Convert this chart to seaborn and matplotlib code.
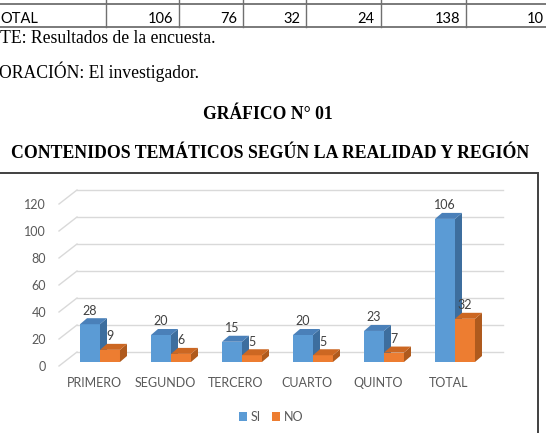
import matplotlib
matplotlib.use("Agg")
import matplotlib.pyplot as plt
from matplotlib.lines import Line2D
from matplotlib.patches import Polygon, Rectangle
from matplotlib.transforms import IdentityTransform, ScaledTranslation
import pandas as pd
import seaborn as sns

# data
categories = ["PRIMERO", "SEGUNDO", "TERCERO", "CUARTO", "QUINTO", "TOTAL"]
si_values = [28, 20, 15, 20, 23, 106]
no_values = [9, 6, 5, 5, 7, 32]
series = ["SI", "NO"]
yticks = [0, 20, 40, 60, 80, 100, 120]

# last row of the table above the chart (what is visible inside the page crop)
table_row = ["OTAL", "106", "76", "32", "24", "138", "10"]
source_line = "TE: Resultados de la encuesta."
author_line = "ORACIÓN: El investigador."
chart_number = "GRÁFICO N° 01"
chart_title = "CONTENIDOS TEMÁTICOS SEGÚN LA REALIDAD Y REGIÓN"

front_colors = {"SI": "#5B9BD5", "NO": "#ED7D31"}
side_colors = {"SI": "#3D6E9E", "NO": "#AF5A1D"}
top_colors = {"SI": "#4A80B9", "NO": "#CC6722"}
text_gray = "#595959"

W, H = 546, 433


def fx(x):
    return x / W


def fy(y):
    return 1 - y / H


df = pd.DataFrame({
    "grado": categories * 2,
    "valor": si_values + no_values,
    "serie": [series[0]] * len(categories) + [series[1]] * len(categories),
})

plt.rcParams["font.family"] = ["Lato", "DejaVu Sans"]
fig = plt.figure(figsize=(W / 100, H / 100), dpi=100)
fig.patch.set_facecolor("white")

# ---- table fragment at the top ----
for yl in [4, 27]:
    fig.add_artist(Line2D([0, 1], [fy(yl), fy(yl)], color="#707070", lw=1.3))
for xl in [106, 179, 243, 306, 381, 466]:
    fig.add_artist(Line2D([fx(xl), fx(xl)], [fy(0), fy(27)], color="#707070", lw=1.0))
fig.text(fx(0), fy(23), table_row[0], ha="left", va="baseline", fontsize=10.5, color="black")
for txt, xr in zip(table_row[1:-1], [173, 237, 300, 374, 460]):
    fig.text(fx(xr), fy(23), txt, ha="right", va="baseline", fontsize=10.5, color="black")
fig.text(fx(527), fy(23), table_row[-1], ha="left", va="baseline", fontsize=10.5, color="black")

serif = ["Liberation Serif", "DejaVu Serif"]
fig.text(fx(0), fy(43), source_line, ha="left", va="baseline", fontsize=12.7, family=serif)
fig.text(fx(-1), fy(78), author_line, ha="left", va="baseline", fontsize=12.7, family=serif)
fig.text(fx(268), fy(115), chart_number, ha="center", va="center", fontsize=12.7,
         fontweight="bold", family=serif)
fig.text(fx(270), fy(153), chart_title, ha="center", va="center", fontsize=12.8,
         fontweight="bold", family=serif)

# chart frame
fig.add_artist(Rectangle((-0.01, -0.01), fx(538) + 0.01, fy(173) + 0.01, fill=False,
                         edgecolor="#404040", lw=1.4))

# ---- bar chart ----
ax = fig.add_axes([fx(64.5), fy(362), fx(426), 162 / H])
sns.barplot(data=df, x="grado", y="valor", hue="serie", palette=front_colors,
            width=0.563, linewidth=0, saturation=1, ax=ax)
ax.set_xlim(-0.5, 5.5)
ax.set_ylim(0, 120)
ax.set_xlabel("")
ax.set_ylabel("")
for s in ax.spines.values():
    s.set_visible(False)
ax.patch.set_alpha(0)

px = fig.dpi_scale_trans
back = ScaledTranslation(12.5 / 100, 10 / 100, px)
for v in yticks:
    ax.plot([-0.5, 5.5], [v, v], color="#D9D9D9", lw=1.0, transform=ax.transData + back,
            zorder=0, clip_on=False)
    bx, by = ax.transData.transform((-0.5, v))
    ax.add_line(Line2D([bx - 5.5, bx + 12.5], [by - 4, by + 10], color="#D9D9D9", lw=1.0,
                       transform=IdentityTransform(), clip_on=False, zorder=0))

# 3D faces for each bar
depth = (7, 6)
for k, cont in enumerate(ax.containers):
    name = series[k]
    for bar in cont:
        bar.set_zorder(2 + k * 0.2)
        x0, y0 = ax.transData.transform((bar.get_x(), 0))
        x1, y1 = ax.transData.transform((bar.get_x() + bar.get_width(), bar.get_height()))
        dx, dy = depth
        side = Polygon([(x1, y0), (x1, y1), (x1 + dx, y1 + dy), (x1 + dx, y0 + dy)],
                       closed=True, facecolor=side_colors[name], edgecolor="none",
                       transform=IdentityTransform(), clip_on=False, zorder=2.1 + k * 0.2)
        top = Polygon([(x0, y1), (x1, y1), (x1 + dx, y1 + dy), (x0 + dx, y1 + dy)],
                      closed=True, facecolor=top_colors[name], edgecolor="none",
                      transform=IdentityTransform(), clip_on=False, zorder=2.1 + k * 0.2)
        ax.add_patch(side)
        ax.add_patch(top)
    labels = ax.bar_label(cont, padding=5.5, fontsize=9, color="#404040")
    for t in labels:
        t.set_zorder(5)

ax.set_yticks(yticks)
ax.set_yticklabels([str(v) for v in yticks])
ax.tick_params(axis="both", length=0, labelsize=9, labelcolor=text_gray)
ax.tick_params(axis="y", pad=13.3)
ax.tick_params(axis="x", pad=10.5)
for t in ax.yaxis.get_major_ticks():
    t.label1.set_transform(t.label1.get_transform() + ScaledTranslation(0, -0.04, px))
for t in ax.xaxis.get_major_ticks():
    t.label1.set_transform(t.label1.get_transform() + ScaledTranslation(-0.06, 0, px))

sns.move_legend(ax, "center", bbox_to_anchor=(fx(271), fy(417)), bbox_transform=fig.transFigure,
                ncol=2, frameon=False, title=None, fontsize=9, handlelength=0.65,
                handleheight=0.65, handletextpad=0.3, columnspacing=0.9)
for t in ax.get_legend().get_texts():
    t.set_color(text_gray)

fig.savefig("out.png", dpi=100)
